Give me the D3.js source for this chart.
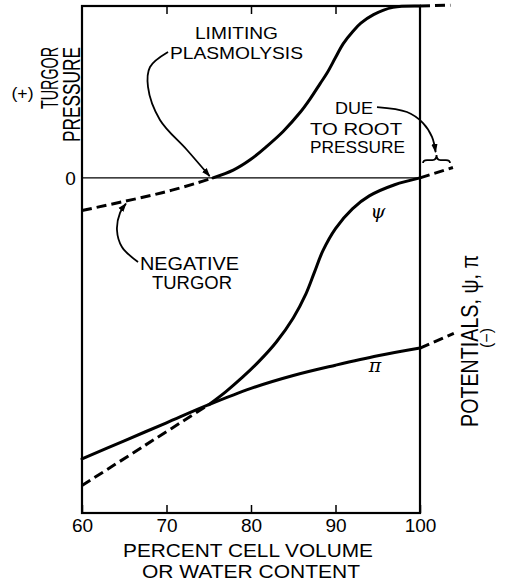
<!DOCTYPE html>
<html>
<head>
<meta charset="utf-8">
<script src="https://cdn.jsdelivr.net/npm/d3@7"></script>
<style>
  html, body { margin: 0; padding: 0; background: #fff; }
  svg { display: block; }
  text { font-family: "Liberation Sans", Arial, Helvetica, sans-serif; fill: #000; }
</style>
</head>
<body>
<svg id="chart" width="505" height="583"></svg>
<script>
// ---------------- DATA (percent cell volume, potential units) ----------------
const xTicks = [60, 70, 80, 90, 100];
const xTickLabels = ["60", "70", "80", "90", "100"];

// Turgor pressure (solid) after limiting plasmolysis
const turgorPct = [75.5, 77.9, 79.9, 81.9, 83.8, 85.8, 87.0, 88.2, 89.0, 90.0, 90.9, 92.1, 93.0, 94.5, 96.8, 100];
const turgorVal = [0, 0.45, 1.05, 1.85, 2.7, 3.8, 4.6, 5.5, 6.1, 7.0, 7.8, 8.55, 9.0, 9.5, 9.92, 10];
// Turgor beyond 100 % (dashed)
const turgorExtPct = [100, 103.6];
const turgorExtVal = [10, 10.05];
// Negative turgor (dashed)
const negTurgorPct = [60, 64.9, 69.6, 73.6, 75.5];
const negTurgorVal = [-1.9, -1.38, -0.85, -0.3, 0];

// Water potential psi (solid)
const psiPct = [75, 77, 79, 81, 83, 85, 86.5, 87.5, 88.5, 90, 92, 94, 97, 100];
const psiVal = [-13.2, -12.45, -11.6, -10.65, -9.55, -8.15, -6.75, -5.5, -4.25, -2.95, -1.8, -1.05, -0.4, 0];
// psi below plasmolysis (dashed)
const psiLowPct = [60, 67.5, 75];
const psiLowVal = [-17.9, -15.55, -13.2];
// psi beyond 100 % (dashed, root pressure)
const psiExtPct = [100, 103.9];
const psiExtVal = [0, 0.6];

// Osmotic potential pi (solid)
const piPct = [60, 65, 70, 75, 80, 85, 90, 95, 100];
const piVal = [-16.35, -15.3, -14.25, -13.2, -12.25, -11.5, -10.9, -10.35, -9.9];
// pi beyond 100 % (dashed)
const piExtPct = [100, 104];
const piExtVal = [-9.9, -9.05];

// ---------------- LAYOUT ----------------
const svg = d3.select("#chart");
const plot = { left: 82, right: 420, top: 6, bottom: 513 };
const x = d3.scaleLinear().domain([60, 100]).range([plot.left, plot.right]);
const y = d3.scaleLinear().domain([-19.5, 10]).range([plot.bottom, plot.top]);

const zip = (a, b) => a.map((d, i) => [d, b[i]]);
const line = d3.line().x(d => x(d[0])).y(d => y(d[1])).curve(d3.curveCatmullRom.alpha(0.5));
const smooth = d3.line().x(d => x(d[0])).y(d => y(d[1])).curve(d3.curveCatmullRom);

// arrow marker
const defs = svg.append("defs");
defs.append("marker").attr("id", "ah").attr("viewBox", "0 0 10 10")
  .attr("refX", 9).attr("refY", 5).attr("markerWidth", 9).attr("markerHeight", 9)
  .attr("markerUnits", "userSpaceOnUse").attr("orient", "auto")
  .append("path").attr("d", "M0,1.5 L10,5 L0,8.5 Z").attr("fill", "#000");

// zero line
svg.append("line")
  .attr("x1", x(60)).attr("x2", x(100)).attr("y1", y(0)).attr("y2", y(0))
  .attr("stroke", "#000").attr("stroke-width", 1.2);

// axes (ticks inward)
const axB = svg.append("g").attr("transform", `translate(0,${plot.bottom})`)
  .call(d3.axisBottom(x).tickValues(xTicks).tickSize(-8).tickSizeOuter(0)
    .tickFormat((d, i) => xTickLabels[i]));
axB.select(".domain").remove();
axB.selectAll(".tick line").attr("stroke", "#000").attr("stroke-width", 1.5);
axB.selectAll(".tick text").attr("dy", null).attr("y", 19).attr("font-size", 19)
  .style("font-family", '"Liberation Sans", Arial, sans-serif');

const axT = svg.append("g").attr("transform", `translate(0,${plot.top})`)
  .call(d3.axisTop(x).tickValues([70, 80, 90]).tickSize(-8).tickFormat(""));
axT.select(".domain").remove();
axT.selectAll(".tick line").attr("stroke", "#000").attr("stroke-width", 1.5);

// frame
svg.append("rect")
  .attr("x", x(60)).attr("y", y(10)).attr("width", x(100) - x(60)).attr("height", y(-19.5) - y(10))
  .attr("fill", "none").attr("stroke", "#000").attr("stroke-width", 2.2);

// curves
const solid = (pts) => svg.append("path").attr("d", line(pts)).attr("fill", "none")
  .attr("stroke", "#000").attr("stroke-width", 3).attr("stroke-linecap", "round");
const dashed = (pts) => svg.append("path").attr("d", line(pts)).attr("fill", "none")
  .attr("stroke", "#000").attr("stroke-width", 3).attr("stroke-dasharray", "10,5");

solid(zip(turgorPct, turgorVal));
dashed(zip(turgorExtPct, turgorExtVal));
dashed(zip(negTurgorPct, negTurgorVal));
solid(zip(psiPct, psiVal));
dashed(zip(psiLowPct, psiLowVal));
dashed(zip(psiExtPct, psiExtVal));
solid(zip(piPct, piVal));
dashed(zip(piExtPct, piExtVal));

// ---------------- ANNOTATIONS ----------------
function label(txt, px, py, size, len, opts = {}) {
  const t = svg.append("text").attr("x", px).attr("y", py).attr("font-size", size)
    .attr("text-anchor", opts.anchor || "middle").text(txt);
  if (len) t.attr("textLength", len).attr("lengthAdjust", "spacingAndGlyphs");
  if (opts.rotate) t.attr("transform", `rotate(-90,${px},${py})`);
  if (opts.style) t.attr("font-style", opts.style);
  if (opts.family) t.style("font-family", opts.family);
  return t;
}

// annotation arrow paths (in data units)
const arrowPlasmo = [[70.18, 7.32], [68.05, 6.45], [67.81, 5.29], [69.23, 3.37], [72.43, 1.62], [75.1, 0.1]];
const arrowNeg = [[66.63, -4.9], [64.73, -4.02], [64.14, -3.03], [64.5, -2.04], [65.2, -1.5]];
const arrowRoot = [[94.91, 4.12], [98.46, 3.83], [100.36, 3.19], [101.42, 2.38], [101.85, 1.5]];
[arrowPlasmo, arrowNeg, arrowRoot].forEach(a => {
  svg.append("path").attr("d", smooth(a)).attr("fill", "none")
    .attr("stroke", "#000").attr("stroke-width", 1.8).attr("marker-end", "url(#ah)");
});

// brace under root-pressure arrow
(function () {
  const x1 = x(100.36), x2 = x(103.55), yt = y(1.33), yb = y(0.86);
  const xm = (x1 + x2) / 2, ym = (yt + yb) / 2 + 1;
  const d = `M${x1},${yb} Q${x1},${ym} ${x1 + 4},${ym} L${xm - 4},${ym} Q${xm},${ym} ${xm},${yt}
             Q${xm},${ym} ${xm + 4},${ym} L${x2 - 4},${ym} Q${x2},${ym} ${x2},${yb}`;
  svg.append("path").attr("d", d).attr("fill", "none").attr("stroke", "#000").attr("stroke-width", 1.8);
})();

label("LIMITING", x(78.28), y(8.08), 17, 83);
label("PLASMOLYSIS", x(78.28), y(6.92), 17, 133);
label("DUE", x(92.19), y(3.69), 16.5, 38);
label("TO ROOT", x(92.43), y(2.52), 16.5, 92);
label("PRESSURE", x(92.6), y(1.42), 16.5, 95);
label("NEGATIVE", x(72.72), y(-5.36), 18.5, 99);
label("TURGOR", x(73.02), y(-6.47), 18.5, 80);
label("ψ", x(95.03), y(-2.34), 19, null, { style: "italic", family: '"DejaVu Serif", serif' });
label("π", x(94.67), y(-11.3), 19, null, { style: "italic", family: '"DejaVu Serif", serif' });

// axis labels
label("0", 70.5, 185, 19, null);
label("PERCENT CELL VOLUME", 248, 557, 19, 250);
label("OR WATER CONTENT", 251, 578, 19, 218);
label("(+)", 22.5, 99, 17, 22);
label("TURGOR", 58, 78, 23.5, 62, { rotate: true });
label("PRESSURE", 80, 94.5, 23.5, 95, { rotate: true });
label("POTENTIALS, ψ, π", 478, 341, 23, 172, { rotate: true });
label("(−)", 492, 338, 16, 20, { rotate: true });
</script>
</body>
</html>
